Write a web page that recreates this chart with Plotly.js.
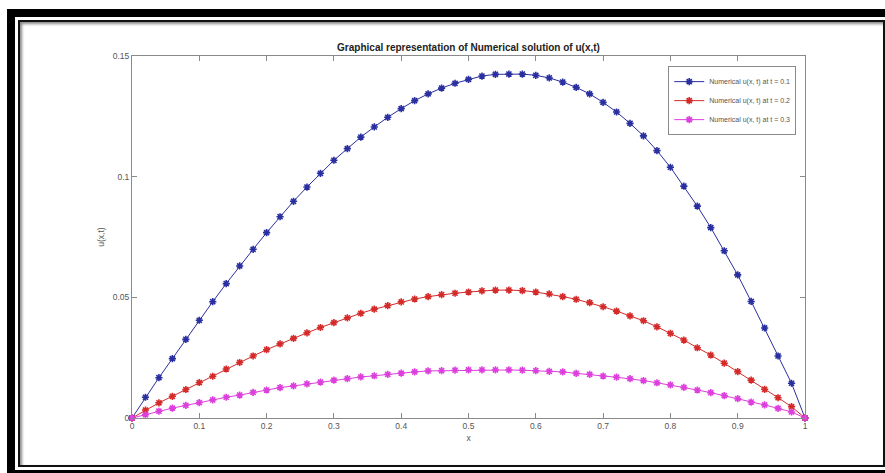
<!DOCTYPE html>
<html>
<head>
<meta charset="utf-8">
<script src="https://cdn.plot.ly/plotly-3.0.1.min.js"></script>
<style>
  html, body { margin: 0; padding: 0; background: #fff; width: 885px; height: 473px; overflow: hidden; }
  #frameOuter { position: absolute; left: 7px; top: 9px; width: 900px; height: 453px; border: 8px solid #000; }
  #frameInner { position: absolute; left: 18px; top: 20px; width: 863px; height: 443px; border: 2px solid #111; box-shadow: inset 2px 2px 3px #888; }
  #chart { position: absolute; left: 0; top: 0; width: 885px; height: 473px; }
</style>
</head>
<body>
<div id="frameOuter"></div>
<div id="frameInner"></div>
<div id="chart"></div>
<script>
const xValues = [0, 0.02, 0.04, 0.06, 0.08, 0.10, 0.12, 0.14, 0.16, 0.18, 0.20, 0.22, 0.24, 0.26, 0.28, 0.30, 0.32, 0.34, 0.36, 0.38, 0.40, 0.42, 0.44, 0.46, 0.48, 0.50, 0.52, 0.54, 0.56, 0.58, 0.60, 0.62, 0.64, 0.66, 0.68, 0.70, 0.72, 0.74, 0.76, 0.78, 0.80, 0.82, 0.84, 0.86, 0.88, 0.90, 0.92, 0.94, 0.96, 0.98, 1.00];

const uT01 = [0, 0.0086, 0.0167, 0.0246, 0.0326, 0.0405, 0.0482, 0.0557, 0.0630, 0.0699, 0.0768, 0.0834, 0.0898, 0.0957, 0.1014, 0.1068, 0.1116, 0.1164, 0.1206, 0.1246, 0.1282, 0.1315, 0.1343, 0.1367, 0.1387, 0.1403,
  0.1417, 0.1424, 0.1425, 0.1425, 0.1420, 0.1409, 0.1392, 0.1370, 0.1343, 0.1308, 0.1268, 0.1221, 0.1169, 0.1108, 0.1039, 0.0961, 0.0878, 0.0789, 0.0693, 0.0593, 0.0483, 0.0373, 0.0257, 0.0144, 0];

const uT02 = [0, 0.0033, 0.0063, 0.0090, 0.0118, 0.0147, 0.0173, 0.0203, 0.0230, 0.0257, 0.0283, 0.0307, 0.0330, 0.0353, 0.0375, 0.0395, 0.0415, 0.0434, 0.0451, 0.0466, 0.0481, 0.0493, 0.0503, 0.0511, 0.0517, 0.0522,
  0.0527, 0.0530, 0.0530, 0.0528, 0.0522, 0.0514, 0.0503, 0.0492, 0.0478, 0.0461, 0.0443, 0.0423, 0.0403, 0.0378, 0.0351, 0.0323, 0.0291, 0.0261, 0.0227, 0.0192, 0.0157, 0.0119, 0.0084, 0.0047, 0];

const uT03 = [0, 0.0014, 0.0028, 0.0041, 0.0052, 0.0064, 0.0075, 0.0086, 0.0095, 0.0106, 0.0116, 0.0126, 0.0133, 0.0141, 0.0149, 0.0157, 0.0163, 0.0170, 0.0175, 0.0181, 0.0186, 0.0191, 0.0195, 0.0196, 0.0198, 0.0199,
  0.0199, 0.0199, 0.0199, 0.0198, 0.0196, 0.0193, 0.0191, 0.0185, 0.0181, 0.0174, 0.0169, 0.0163, 0.0155, 0.0146, 0.0137, 0.0127, 0.0116, 0.0105, 0.0093, 0.0080, 0.0066, 0.0054, 0.0040, 0.0025, 0];

const seriesNames = ['Numerical u(x, t) at t = 0.1', 'Numerical u(x, t) at t = 0.2', 'Numerical u(x, t) at t = 0.3'];
const seriesColors = ['#2a2fa0', '#d42a2a', '#dd3fdd'];
const xTickVals = [0, 0.1, 0.2, 0.3, 0.4, 0.5, 0.6, 0.7, 0.8, 0.9, 1];
const xTickText = ['0', '0.1', '0.2', '0.3', '0.4', '0.5', '0.6', '0.7', '0.8', '0.9', '1'];
const yTickVals = [0, 0.05, 0.1, 0.15];
const yTickText = ['0', '0.05', '0.1', '0.15'];

const ys = [uT01, uT02, uT03];
const traces = ys.map((y, i) => ({
  x: xValues, y: y, type: 'scatter', mode: 'lines+markers', name: seriesNames[i],
  line: { color: seriesColors[i], width: 1 },
  marker: { symbol: 'asterisk-open', size: 6, color: seriesColors[i], line: { color: seriesColors[i], width: 1.6 } },
  cliponaxis: false
}));

const fontFam = '"Liberation Sans", Arial, sans-serif';
const axisCommon = {
  showgrid: false, zeroline: false, showline: true, linecolor: '#8a8a8a', linewidth: 1,
  mirror: 'ticks', ticks: 'inside', ticklen: 5, tickcolor: '#8a8a8a', tickwidth: 1,
  tickfont: { family: fontFam, size: 8.5, color: '#555' }, automargin: false
};

const layout = {
  width: 885, height: 473,
  paper_bgcolor: 'rgba(0,0,0,0)', plot_bgcolor: '#fff',
  margin: { l: 132, r: 80, t: 56, b: 55 },
  title: { text: '<b>Graphical representation of Numerical solution of u(x,t)</b>',
    font: { family: '"Liberation Sans Narrow", ' + fontFam, size: 10, color: '#222' },
    x: 0.5, xref: 'paper', xanchor: 'center', y: 1 - 47 / 473, yanchor: 'middle' },
  xaxis: Object.assign({}, axisCommon, { range: [0, 1], tickvals: xTickVals, ticktext: xTickText,
    title: { text: 'x', font: { family: fontFam, size: 8.5, color: '#555' }, standoff: 4 } }),
  yaxis: Object.assign({}, axisCommon, { range: [0, 0.15], tickvals: yTickVals, ticktext: yTickText,
    title: { text: 'u(x,t)', font: { family: fontFam, size: 8.5, color: '#555' }, standoff: 6 } }),
  legend: { x: 0.987, xanchor: 'right', y: 0.972, yanchor: 'top', bgcolor: '#fff',
    bordercolor: '#8a8a8a', borderwidth: 1, font: { family: fontFam, size: 7, color: '#555' },
    tracegroupgap: 0, itemwidth: 30 },
  showlegend: true
};

Plotly.newPlot('chart', traces, layout, { staticPlot: true, displayModeBar: false });
</script>
</body>
</html>
